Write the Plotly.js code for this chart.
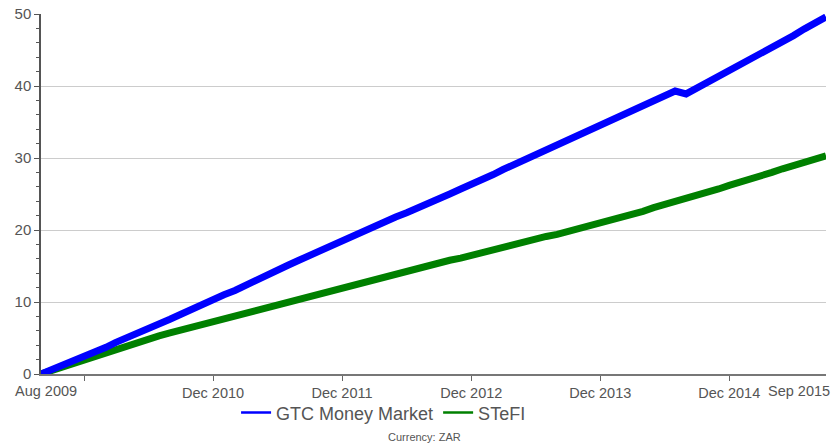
<!DOCTYPE html>
<html>
<head>
<meta charset="utf-8">
<script src="https://cdn.plot.ly/plotly-3.0.1.min.js"></script>
<style>
html,body{margin:0;padding:0;background:#fff;}
#chart{width:833px;height:445px;}
</style>
</head>
<body>
<div id="chart"></div>
<script>
// Monthly dates, Aug 2009 .. Sep 2015
var months = [
 "2009-08-01","2009-09-01","2009-10-01","2009-11-01","2009-12-01",
 "2010-01-01","2010-02-01","2010-03-01","2010-04-01","2010-05-01","2010-06-01","2010-07-01","2010-08-01","2010-09-01","2010-10-01","2010-11-01","2010-12-01",
 "2011-01-01","2011-02-01","2011-03-01","2011-04-01","2011-05-01","2011-06-01","2011-07-01","2011-08-01","2011-09-01","2011-10-01","2011-11-01","2011-12-01",
 "2012-01-01","2012-02-01","2012-03-01","2012-04-01","2012-05-01","2012-06-01","2012-07-01","2012-08-01","2012-09-01","2012-10-01","2012-11-01","2012-12-01",
 "2013-01-01","2013-02-01","2013-03-01","2013-04-01","2013-05-01","2013-06-01","2013-07-01","2013-08-01","2013-09-01","2013-10-01","2013-11-01","2013-12-01",
 "2014-01-01","2014-02-01","2014-03-01","2014-04-01","2014-05-01","2014-06-01","2014-07-01","2014-08-01","2014-09-01","2014-10-01","2014-11-01","2014-12-01",
 "2015-01-01","2015-02-01","2015-03-01","2015-04-01","2015-05-01","2015-06-01","2015-07-01","2015-08-01","2015-09-01"
];

// Cumulative return (%) – GTC Money Market
var gtcMoneyMarket = [
 0.0,0.6,1.2,1.8,2.5,
 3.1,3.7,4.4,5.0,5.6,6.3,7.0,7.6,8.3,9.0,9.7,10.4,
 11.0,11.6,12.3,13.0,13.7,14.4,15.1,15.8,16.5,17.1,17.8,18.5,
 19.1,19.8,20.5,21.1,21.8,22.4,23.1,23.7,24.4,25.0,25.7,26.3,
 27.0,27.7,28.4,29.1,29.8,30.5,31.2,31.9,32.6,33.2,33.9,34.6,
 35.3,36.0,36.7,37.4,38.1,38.7,39.3,38.9,39.7,40.5,41.3,42.1,
 42.9,43.7,44.5,45.3,46.2,47.0,47.9,48.7,49.6
];

// Cumulative return (%) – STeFI
var stefi = [
 0.0,0.5,1.0,1.5,2.0,
 2.5,3.0,3.5,4.0,4.5,4.9,5.3,5.7,6.1,6.5,6.9,7.3,
 7.7,8.1,8.5,8.9,9.3,9.7,10.1,10.5,10.9,11.3,11.7,12.1,
 12.5,12.8,13.2,13.6,13.9,14.3,14.7,15.0,15.4,15.8,16.1,16.5,
 16.9,17.2,17.6,18.0,18.3,18.7,19.1,19.4,19.8,20.2,20.5,20.9,
 21.3,21.7,22.2,22.6,23.1,23.5,23.9,24.4,24.8,25.3,25.7,26.2,
 26.6,27.1,27.5,28.0,28.5,28.9,29.4,29.8,30.3
];

var seriesNames = ["GTC Money Market", "STeFI"];
var seriesColors = ["#0000ff", "#008000"];

var xTickVals = ["2009-12-01","2010-12-01","2011-12-01","2012-12-01","2013-12-01","2014-12-01"];
var xTickText = ["", "Dec 2010","Dec 2011","Dec 2012","Dec 2013","Dec 2014"];
var xStartLabel = "Aug 2009";
var xEndLabel = "Sep 2015";
var footnote = "Currency: ZAR";

var FONT = "Arial, 'Liberation Sans', sans-serif";
var TXT = "#555555";

var traces = [
 {x: months, y: stefi, type: "scatter", mode: "lines", name: seriesNames[1],
  line: {color: seriesColors[1], width: 7}, showlegend: false, hoverinfo: "x+y"},
 {x: months, y: gtcMoneyMarket, type: "scatter", mode: "lines", name: seriesNames[0],
  line: {color: seriesColors[0], width: 7}, showlegend: false, hoverinfo: "x+y"},
 {x: [null], y: [null], type: "scatter", mode: "lines", name: seriesNames[0],
  line: {color: seriesColors[0], width: 2.5}, showlegend: true},
 {x: [null], y: [null], type: "scatter", mode: "lines", name: seriesNames[1],
  line: {color: seriesColors[1], width: 2.5}, showlegend: true}
];

var layout = {
 width: 833, height: 445,
 margin: {l: 41, r: 7, t: 14, b: 71, pad: 0},
 paper_bgcolor: "#ffffff", plot_bgcolor: "#ffffff",
 font: {family: FONT, color: TXT, size: 12},
 xaxis: {
  type: "date", range: [months[0], months[months.length-1]],
  tickmode: "array", tickvals: xTickVals, ticktext: xTickText,
  ticks: "outside", ticklen: 5, tickwidth: 1, tickcolor: "#666",
  showline: true, linecolor: "#777", linewidth: 1.5,
  showgrid: false, zeroline: false,
  tickfont: {family: FONT, size: 14.5, color: TXT}
 },
 yaxis: {
  range: [0, 50], tickvals: [0,10,20,30,40,50],
  ticks: "outside", ticklen: 5, tickwidth: 1, tickcolor: "#555",
  minor: {dtick: 2, tick0: 0, ticks: "outside", ticklen: 3, tickcolor: "#555", showgrid: false},
  showline: true, linecolor: "#555", linewidth: 1.5,
  showgrid: true, gridcolor: "#cccccc", gridwidth: 1,
  zeroline: false,
  tickfont: {family: FONT, size: 15, color: TXT}
 },
 showlegend: true,
 legend: {
  orientation: "h", x: 0.2485, xanchor: "left", y: -0.108, yanchor: "middle",
  font: {family: FONT, size: 18, color: TXT},
  itemwidth: 30, tracegroupgap: 0, bgcolor: "rgba(0,0,0,0)"
 },
 annotations: [
  {text: xStartLabel, xref: "paper", yref: "paper", x: 0.0064, y: -0.047,
   xanchor: "center", yanchor: "middle", showarrow: false,
   font: {family: FONT, size: 14.5, color: TXT}},
  {text: xEndLabel, xref: "paper", yref: "paper", x: 1.0076, y: -0.047,
   xanchor: "right", yanchor: "middle", showarrow: false,
   font: {family: FONT, size: 14.5, color: TXT}},
  {text: footnote, xref: "paper", yref: "paper", x: 0.488, y: -0.175,
   xanchor: "center", yanchor: "middle", showarrow: false,
   font: {family: FONT, size: 11, color: TXT}}
 ]
};

Plotly.newPlot("chart", traces, layout, {displayModeBar: false, responsive: false});
</script>
</body>
</html>
